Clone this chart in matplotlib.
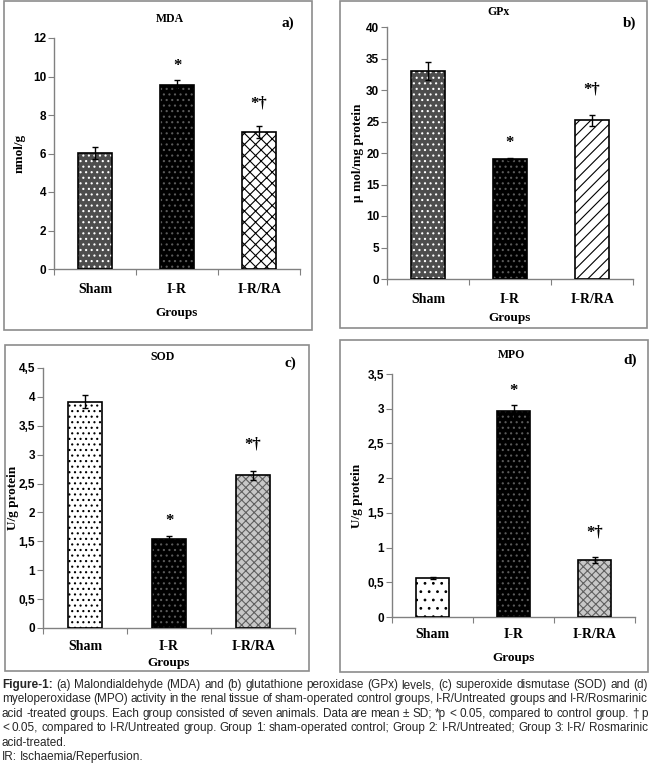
import matplotlib
matplotlib.use('Agg')
import matplotlib.pyplot as plt
from matplotlib.patches import Rectangle
from matplotlib.ticker import FuncFormatter, MultipleLocator

# data (mean and SD per group)
groups = ['Sham', 'I-R', 'I-R/RA']
marks = ['', '*', '*†']

mda_mean = [6.03, 9.58, 7.10]
mda_sd = [0.29, 0.24, 0.31]
gpx_mean = [33.0, 19.05, 25.2]
gpx_sd = [1.4, 0.2, 0.9]
sod_mean = [3.92, 1.54, 2.64]
sod_sd = [0.12, 0.05, 0.08]
mpo_mean = [0.56, 2.96, 0.82]
mpo_sd = [0.015, 0.09, 0.04]

caption_lines = [
    "Figure-1: (a) Malondialdehyde (MDA) and (b) glutathione peroxidase (GPx) levels, (c) superoxide dismutase (SOD) and (d)",
    "myeloperoxidase (MPO) activity in the renal tissue of sham-operated control groups, I-R/Untreated groups and I-R/Rosmarinic",
    "acid -treated groups. Each group consisted of seven animals. Data are mean ± SD; *p < 0.05, compared to control group. † p",
    "< 0.05, compared to I-R/Untreated group. Group 1: sham-operated control; Group 2: I-R/Untreated; Group 3: I-R/ Rosmarinic",
    "acid-treated.",
    "IR: Ischaemia/Reperfusion.",
]

W, H = 650, 765
SERIF = 'Liberation Serif'
SANS = 'Liberation Sans'
GRAY = '#808080'

plt.rcParams['hatch.linewidth'] = 0.8


def fx(px):
    return px / W


def fy(py):
    return 1 - py / H


def draw_panel(fig, means, sds, title, letter, ylabel, ymax, ystep, box, axbox,
               title_xy, letter_xy, ylabel_x, tick_pad, groups_y, styles):
    l, t, r, b = box
    fig.add_artist(Rectangle((fx(l), fy(b)), (r - l) / W, (b - t) / H,
                             transform=fig.transFigure, fill=False,
                             edgecolor='#8c8c8c', lw=1.2))
    al, at, ar, ab = axbox
    ax = fig.add_axes([fx(al), fy(ab), (ar - al) / W, (ab - at) / H])
    xs = [0.5, 1.5, 2.5]
    for x, m, (face, hatch, hcol) in zip(xs, means, styles):
        ax.bar(x, m, width=0.41, color=face, edgecolor=hcol, hatch=hatch, lw=0, zorder=2)
        ax.bar(x, m, width=0.41, fill=False, edgecolor='black', lw=1.2, zorder=3)
    ax.errorbar(xs, means, yerr=sds, fmt='none', ecolor='black', elinewidth=1,
                capsize=2.5, capthick=1, zorder=4)
    for x, m, s, mk in zip(xs, means, sds, marks):
        if mk:
            off = 0.06 if mk == '*' else 0.10
            ax.text(x, m + s + off * ymax, mk, ha='center', va='center',
                    family=SERIF, weight='bold', fontsize=12)
    ax.set_xlim(0, 3)
    ax.set_ylim(0, ymax)
    for side in ('top', 'right'):
        ax.spines[side].set_visible(False)
    for side in ('left', 'bottom'):
        ax.spines[side].set_color(GRAY)
        ax.spines[side].set_linewidth(1)
    ax.yaxis.set_major_locator(MultipleLocator(ystep))
    ax.yaxis.set_major_formatter(FuncFormatter(lambda v, _: f'{v:g}'.replace('.', ',')))
    ax.set_xticks([0, 1, 2, 3])
    ax.set_xticklabels([])
    ax.set_xticks(xs, minor=True)
    ax.set_xticklabels(groups, minor=True, family=SERIF, weight='bold', fontsize=10)
    ax.tick_params(axis='x', which='major', direction='out', length=4, color=GRAY)
    ax.tick_params(axis='x', which='minor', length=0, pad=tick_pad)
    ax.tick_params(axis='y', direction='out', length=4, color=GRAY, pad=1.5)
    for lab in ax.get_yticklabels():
        lab.set_family(SANS)
        lab.set_weight('bold')
        lab.set_fontsize(8.5)
    ax.patch.set_visible(False)

    fig.text(fx(title_xy[0]), fy(title_xy[1]), title, ha='center', va='center',
             family=SERIF, weight='bold', fontsize=8.5)
    fig.text(fx(letter_xy[0]), fy(letter_xy[1]), letter, ha='center', va='center',
             family=SERIF, weight='bold', fontsize=11)
    fig.text(fx(ylabel_x), fy((at + ab) / 2), ylabel, ha='center', va='center',
             rotation=90, family=SERIF, weight='bold', fontsize=9.5)
    fig.text(fx((al + ar) / 2), fy(groups_y), 'Groups', ha='center', va='center',
             family=SERIF, weight='bold', fontsize=9.5)
    return ax


def word_widths(fig, renderer, words, bold_first, size):
    out = []
    for i, w in enumerate(words):
        t = fig.text(0, 0, w, family=SANS, fontsize=size,
                     weight='bold' if (bold_first and i == 0) else 'normal')
        out.append(t.get_window_extent(renderer).width)
        t.remove()
    return out


def caption_line(fig, renderer, y_px, text, justify, bold_first, size):
    words = text.split(' ')
    widths = word_widths(fig, renderer, words, bold_first, size)
    x0, x1 = 2, 648
    if justify and len(words) > 1:
        gap = max(1.5, (x1 - x0 - sum(widths)) / (len(words) - 1))
    else:
        gap = size * 100 / 72 * 0.28
    x = x0
    for i, (w, wd) in enumerate(zip(words, widths)):
        fig.text(fx(x), fy(y_px), w, ha='left', va='baseline', family=SANS,
                 weight='bold' if (bold_first and i == 0) else 'normal',
                 fontsize=size, color='#262626')
        x += wd + gap


fig = plt.figure(figsize=(6.5, 7.65), dpi=100)
fig.patch.set_facecolor('white')

style_a = [('#4d4d4d', '...', 'white'), ('black', '...', '#5a5a5a'), ('white', 'xxx', 'black')]
style_b = [('#4d4d4d', '...', 'white'), ('black', '...', '#5a5a5a'), ('white', '///', 'black')]
style_c = [('white', '...', 'black'), ('black', '...', '#5a5a5a'), ('#c8c8c8', 'xxxx', '#606060')]
style_d = [('white', '..', 'black'), ('black', '...', '#5a5a5a'), ('#c8c8c8', 'xxxx', '#606060')]

draw_panel(fig, mda_mean, mda_sd, 'MDA', 'a)', 'nmol/g', 12, 2,
           (4, 1, 312, 330), (54, 38, 300, 269), (170, 19), (288, 23), 20, 10, 313, style_a)
draw_panel(fig, gpx_mean, gpx_sd, 'GPx', 'b)', 'µ mol/mg protein', 40, 5,
           (340, 1, 647, 328), (387, 27, 633, 279), (498, 12), (630, 23), 358, 10, 318, style_b)
draw_panel(fig, sod_mean, sod_sd, 'SOD', 'c)', 'U/g protein', 4.5, 0.5,
           (5, 345, 309, 671), (43, 368, 295, 628), (163, 357), (290, 363), 13, 9, 663, style_c)
draw_panel(fig, mpo_mean, mpo_sd, 'MPO', 'd)', 'U/g protein', 3.5, 0.5,
           (340, 340, 648, 672), (392, 374, 635, 617), (512, 355), (630, 360), 357, 8, 658, style_d)

renderer = fig.canvas.get_renderer()

# pick the caption size so the widest justified line still has ~2.5 px spaces
trial = 10.0
size = 8.7
for i, line in enumerate(caption_lines[:4]):
    words = line.split(' ')
    total = sum(word_widths(fig, renderer, words, i == 0, trial))
    size = min(size, trial * (646 - 2.5 * (len(words) - 1)) / total)

# whole-pixel baselines keep every word of a line on the same row
baselines = [688, 702, 717, 731, 746, 760]
for i, (y, line) in enumerate(zip(baselines, caption_lines)):
    caption_line(fig, renderer, y, line, justify=i < 4, bold_first=i == 0, size=size)

fig.savefig('out.png', dpi=100)
